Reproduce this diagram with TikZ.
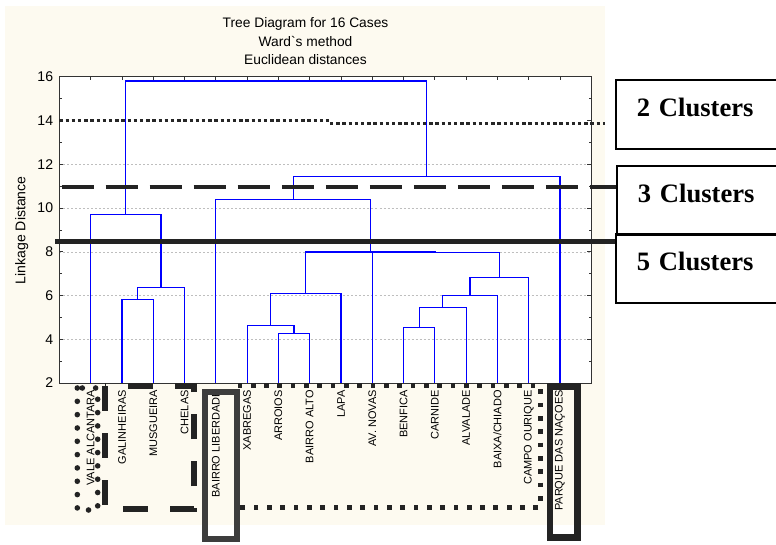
\documentclass[tikz,border=0pt]{standalone}
\usepackage{fontspec}
\setmainfont{Liberation Sans}
\newfontfamily\clusterfont{Liberation Serif}

\definecolor{panelbg}{RGB}{253,250,240}
\definecolor{inkdark}{RGB}{35,35,35}
\definecolor{gridgray}{RGB}{190,190,190}

\begin{document}
\begin{tikzpicture}[x=0.025cm,y=-0.025cm,
    tree/.style={blue,line width=0.85pt},
    axis/.style={black!80,line width=0.6pt},
    gridline/.style={gridgray,line width=0.4pt,dash pattern=on 0.05cm off 0.05cm},
    ticklabel/.style={anchor=east,inner sep=0pt,xshift=-0.15cm,font=\fontsize{10}{12}\selectfont},
    leaflabel/.style={anchor=east,rotate=90,inner sep=0pt,font=\fontsize{7.8}{9}\selectfont},
    cut/.style={inkdark,line width=0.1cm},
    clusterbox/.style={draw,line width=1.2pt,anchor=north west,inner xsep=0.525cm,inner ysep=0pt,
        text width=4cm,align=left,text height=0.92cm,text depth=0.8cm,
        font=\clusterfont\bfseries\fontsize{18.9}{22}\selectfont}]

    \useasboundingbox (0,0) rectangle (776,545);
    \clip (0,0) rectangle (776,545);

    \fill[panelbg] (5,6) rectangle (605,525);

    \node[anchor=north,inner sep=0pt,align=center,font=\fontsize{9.8}{13.4}\selectfont] (title) at (305.5,17)
        {Tree Diagram for 16 Cases\\Ward\textasciigrave s method\\Euclidean distances};

    \node[rotate=90,inner sep=0pt,font=\fontsize{10}{12}\selectfont] (ylabel) at (21.7,230.3) {Linkage Distance};

    \begin{scope}[shift={(59.4,426.72)},x=0.782cm,y=0.5465cm]
        \fill[white] (0,2) rectangle (17,16);
        \foreach \v in {4,6,...,12}
            \draw[gridline] (0,\v) -- (17,\v);

        \draw[tree] (2,2) |- (3,5.83) -- (3,2);
        \draw[tree] (2.5,5.83) |- (4,6.38) -- (4,2);
        \draw[tree] (1,2) |- (3.25,9.70) -- (3.25,6.38);
        \draw[tree] (7,2) |- (8,4.26) -- (8,2);
        \draw[tree] (6,2) |- (7.5,4.62) -- (7.5,4.26);
        \draw[tree] (6.75,4.62) |- (9,6.08) -- (9,2);
        \draw[tree] (11,2) |- (12,4.53) -- (12,2);
        \draw[tree] (11.5,4.53) |- (13,5.46) -- (13,2);
        \draw[tree] (12.25,5.46) |- (14,6.01) -- (14,2);
        \draw[tree] (13.125,6.01) |- (15,6.82) -- (15,2);
        \draw[tree] (10,2) |- (14.0625,7.96) -- (14.0625,6.82);
        \draw[tree] (7.875,6.08) |- (12.03125,7.99) -- (12.03125,7.96);
        \draw[tree] (5,2) |- (9.953125,10.40) -- (9.953125,7.99);
        \draw[tree] (7.4765625,10.40) |- (16,11.44) -- (16,2);
        \draw[tree] (2.125,9.70) |- (11.73828,15.81) -- (11.73828,11.44);

        \draw[axis] (0,2) rectangle (17,16);
        \foreach \v in {3,5,...,15} {
            \draw[axis] (0,\v) -- ++(0.07cm,0);
            \draw[axis] (17,\v) -- ++(-0.07cm,0);
        }
        \foreach \v in {2,4,...,16} {
            \draw[axis] (0,\v) -- ++(0.1cm,0);
            \draw[axis] (17,\v) -- ++(-0.1cm,0);
            \node[ticklabel] (ytick\v) at (0,\v) {\v};
        }
        \foreach \i in {1,...,16}
            \draw[axis] (\i,16) -- ++(0,-0.08cm);

        \foreach \name [count=\i] in {VALE ALCANTARA,GALINHEIRAS,MUSGUEIRA,CHELAS,BAIRRO LIBERDADE,
                XABREGAS,ARROIOS,BAIRRO ALTO,LAPA,AV. NOVAS,BENFICA,CARNIDE,ALVALADE,
                BAIXA/CHIADO,CAMPO OURIQUE,PARQUE DAS NAÇOES}
            \node[leaflabel] (leaf\i) at (\i,1.68) {\name};
    \end{scope}

    \node[clusterbox] (c2) at (615,79.3) {2 Clusters};
    \node[clusterbox] (c3) at (616,165.3) {3 Clusters};
    \node[clusterbox] (c5) at (615,233.3) {5 Clusters};

    \draw[cut,black!85,line width=0.085cm,dash pattern=on 0.085cm off 0.07cm] (59.3,120.7) -- (330,120.7);
    \draw[cut,black!85,line width=0.085cm,dash pattern=on 0.085cm off 0.07cm] (330,123.3) -- (605,123.3);

    \draw[cut,dash pattern=on 0.8cm off 0.3cm] (61.7,187.3) -- (591,187.3);
    \coordinate (t3) at (591,187.3);
    \draw[cut] (t3) -- (t3 -| c3.west);

    \coordinate (t5) at (55,241.5);
    \draw[cut,line width=0.117cm] (t5) -- (t5 -| c5.west);

    \draw[cut,line width=0.14cm,line cap=round,dash pattern=on 0cm off 0.333cm] (77.3,388) rectangle (97.7,510);
    \draw[cut,line width=0.15cm,dash pattern=on 0.625cm off 0.55cm]
        (104.7,386.3) -- (104.7,509) -- (194.3,509) -- (194.3,386.3) -- cycle;
    \draw[cut,line width=0.125cm,dash pattern=on 0.117cm off 0.216cm]
        (237.5,385.5) -- (540,385.5) -- (540,507.5) -- (237.5,507.5) -- cycle;
    \draw[line width=0.15cm,color=black!76] (205.3,391.8) rectangle (236.7,539.3);
    \draw[line width=0.168cm,color=inkdark] (550,386.7) rectangle (577.5,537.3);

\end{tikzpicture}
\end{document}
